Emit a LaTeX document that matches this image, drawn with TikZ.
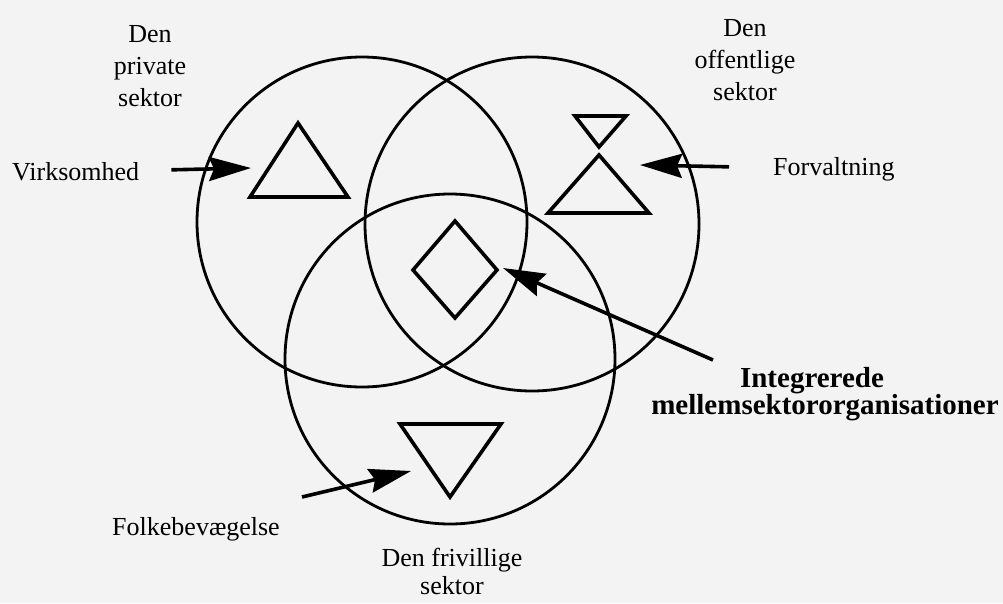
\documentclass[tikz,border=0pt]{standalone}
\usepackage{fontspec}
\setmainfont{Liberation Serif}
\usetikzlibrary{arrows.meta}
\definecolor{paper}{HTML}{F3F3F3}
\tikzset{
  sec/.style={draw, circle, line width=2.8pt, inner sep=0pt, minimum size=330pt},
  shp/.style={draw, line width=3.6pt, line join=miter},
  arr/.style={-{Stealth[length=42pt, width=24pt, inset=5pt]}, line width=3.6pt},
  lbl/.style={inner sep=0pt, font=\fontsize{26}{32}\selectfont},
  hd/.style={lbl, align=center, anchor=north},
}

\begin{document}
\begin{tikzpicture}[x=1pt, y=-1pt]
  \useasboundingbox (0,0) rectangle (1003,603);
  \fill[paper] (0,0) rectangle (1003,603);

  % sectors
  \node[sec] (priv) at (362,222) {};
  \node[sec, minimum size=334pt] (off) at (532,224) {};
  \node[sec] (friv) at (450,359) {};

  \node[hd] (privlbl) at (150,25) {Den\\private\\sektor};
  \node[hd] (offlbl) at (745,19) {Den\\offentlige\\sektor};
  \node[hd, font=\fontsize{26}{28}\selectfont] (frivlbl) at (452,548) {Den frivillige\\sektor};

  % organisation forms
  \draw[shp] (298,123) -- (348,197) -- (250,197) -- cycle;
  \draw[shp] (575,116) -- (626,116) -- (599,147) -- cycle;
  \draw[shp] (599,155) -- (649,213) -- (548,213) -- cycle;
  \draw[shp] (455,221) -- (497,270) -- (455,318) -- (413,270) -- cycle;
  \draw[shp] (400,424) -- (501,424) -- (450,497) -- cycle;

  % labels with arrows
  \node[lbl, anchor=west] (virk) at (12,172) {Virksomhed};
  \node[lbl, anchor=west] (forv) at (773,169) {Forvaltning};
  \node[lbl, anchor=base] (folk) at (196,535) {Folkebevægelse};
  \node[lbl, anchor=north, align=center, font=\bfseries\fontsize{29}{25}\selectfont] (integ) at (825,367)
    {\hspace*{-26pt}Integrerede\\mellemsektororganisationer};

  \coordinate (virkTip) at (251,168);
  \coordinate (forvTip) at (640,165);
  \coordinate (folkFrom) at (302,497);
  \coordinate (folkTip) at (411,471);
  \coordinate (integFrom) at (713,360);
  \coordinate (integTip) at (503,268);

  \draw[arr, shorten <=32pt] (virk) -- (virkTip);
  \draw[arr, shorten <=44pt] (forv) -- (forvTip);
  \draw[arr] (folkFrom) -- (folkTip);
  \draw[arr] (integFrom) -- (integTip);
\end{tikzpicture}
\end{document}
